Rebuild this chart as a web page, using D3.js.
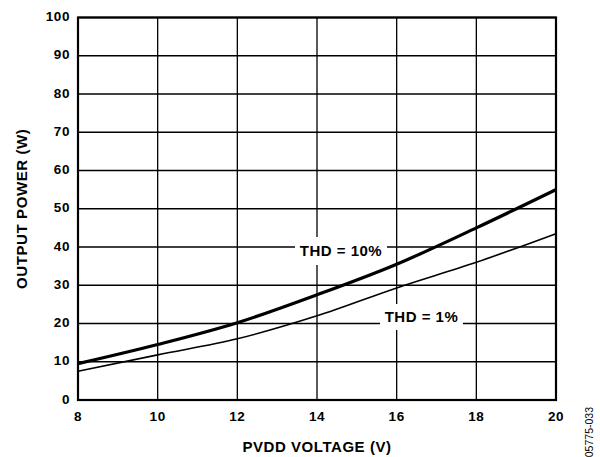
<!DOCTYPE html>
<html>
<head>
<meta charset="utf-8">
<script src="https://cdn.jsdelivr.net/npm/d3@7"></script>
<style>
  body { margin: 0; background: #fff; }
  text { font-family: "Liberation Sans", Arial, sans-serif; fill: #000; }
</style>
</head>
<body>
<div id="chart"></div>
<script>
// readings from the picture
const voltage = [8, 10, 12, 14, 16, 18, 20];
const thd10 = [9.5, 14.5, 20.2, 27.5, 35.5, 45, 55];
const thd1 = [7.5, 11.8, 16, 22, 29.3, 36, 43.5];
const xTicks = [8, 10, 12, 14, 16, 18, 20];
const yTicks = [0, 10, 20, 30, 40, 50, 60, 70, 80, 90, 100];

const width = 600;
const height = 457;
const plotLeft = 78, plotRight = 556, plotTop = 17.5, plotBottom = 400;

const svg = d3.select('#chart')
  .append('svg')
  .attr('width', width)
  .attr('height', height);

const x = d3.scaleLinear().domain([8, 20]).range([plotLeft, plotRight]);
const y = d3.scaleLinear().domain([0, 100]).range([plotBottom, plotTop]);

// grid
svg.append('g')
  .selectAll('line')
  .data(xTicks)
  .enter()
  .append('line')
  .attr('x1', d => x(d)).attr('x2', d => x(d))
  .attr('y1', plotTop).attr('y2', plotBottom)
  .attr('stroke', '#000')
  .attr('stroke-width', 1.3);

svg.append('g')
  .selectAll('line')
  .data(yTicks)
  .enter()
  .append('line')
  .attr('x1', plotLeft).attr('x2', plotRight)
  .attr('y1', d => y(d)).attr('y2', d => y(d))
  .attr('stroke', '#000')
  .attr('stroke-width', 1.3);

// curves
const line = d3.line()
  .x(d => x(d[0]))
  .y(d => y(d[1]))
  .curve(d3.curveMonotoneX);

svg.append('path')
  .datum(voltage.map((v, i) => [v, thd1[i]]))
  .attr('d', line)
  .attr('fill', 'none')
  .attr('stroke', '#000')
  .attr('stroke-width', 1.6);

svg.append('path')
  .datum(voltage.map((v, i) => [v, thd10[i]]))
  .attr('d', line)
  .attr('fill', 'none')
  .attr('stroke', '#000')
  .attr('stroke-width', 3.2);

// frame
svg.append('rect')
  .attr('x', plotLeft).attr('y', plotTop)
  .attr('width', plotRight - plotLeft).attr('height', plotBottom - plotTop)
  .attr('fill', 'none')
  .attr('stroke', '#000')
  .attr('stroke-width', 2.2);

// curve labels with white boxes
const labels = [
  {text: 'THD = 10%', cx: 341, cy: 251, w: 92, h: 28},
  {text: 'THD = 1%', cx: 421.5, cy: 317, w: 83, h: 26}
];
labels.forEach(l => {
  svg.append('rect')
    .attr('x', l.cx - l.w / 2).attr('y', l.cy - l.h / 2)
    .attr('width', l.w).attr('height', l.h)
    .attr('fill', '#fff');
  svg.append('text')
    .text(l.text)
    .attr('x', l.cx).attr('y', l.cy)
    .attr('dy', '0.36em')
    .attr('text-anchor', 'middle')
    .style('font-size', '15px')
    .style('font-weight', 'bold')
    .style('letter-spacing', '0.5px');
});

// tick labels
svg.append('g')
  .selectAll('text')
  .data(xTicks)
  .enter()
  .append('text')
  .text(d => d)
  .attr('x', d => x(d))
  .attr('y', 421)
  .attr('text-anchor', 'middle')
  .style('font-size', '13.5px')
  .style('font-weight', 'bold')
  .style('letter-spacing', '0.6px');

svg.append('g')
  .selectAll('text')
  .data(yTicks)
  .enter()
  .append('text')
  .text(d => d)
  .attr('x', 70)
  .attr('y', d => y(d) - 1)
  .attr('dy', '0.35em')
  .attr('text-anchor', 'end')
  .style('font-size', '13.5px')
  .style('font-weight', 'bold')
  .style('letter-spacing', '0.6px');

// axis titles
svg.append('text')
  .text('PVDD VOLTAGE (V)')
  .attr('x', (plotLeft + plotRight) / 2)
  .attr('y', 452)
  .attr('text-anchor', 'middle')
  .style('font-size', '15px')
  .style('font-weight', 'bold')
  .style('letter-spacing', '0.55px');

svg.append('text')
  .text('OUTPUT POWER (W)')
  .attr('transform', `translate(27, ${(plotTop + plotBottom) / 2}) rotate(-90)`)
  .attr('text-anchor', 'middle')
  .style('font-size', '15px')
  .style('font-weight', 'bold')
  .style('letter-spacing', '0.6px');

svg.append('text')
  .text('05775-033')
  .attr('transform', 'translate(593, 407) rotate(-90)')
  .attr('text-anchor', 'end')
  .style('font-size', '10.5px');
</script>
</body>
</html>
